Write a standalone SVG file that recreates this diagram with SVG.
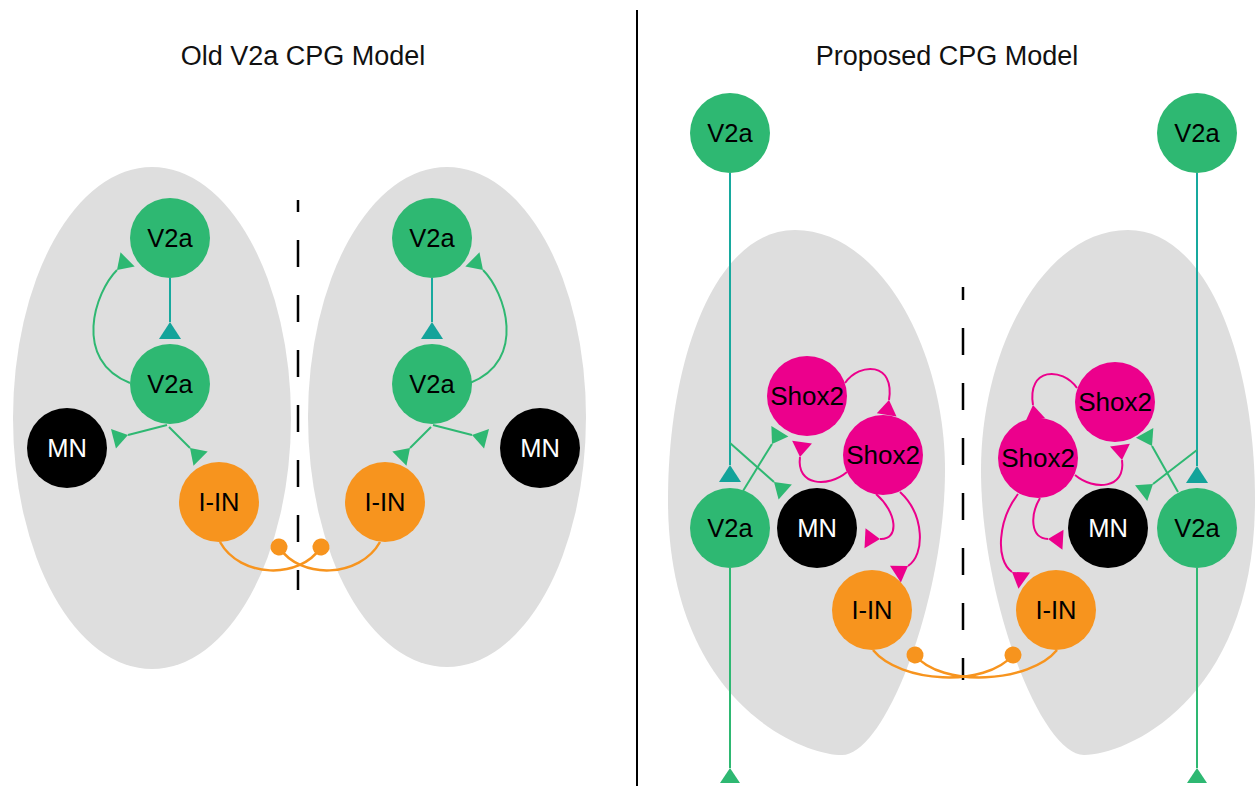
<svg xmlns="http://www.w3.org/2000/svg" width="1258" height="786" viewBox="0 0 1258 786">
<style>
.bg{fill:#dedede}
.t{font-family:"Liberation Sans",Arial,Helvetica,sans-serif;font-size:25.5px;text-anchor:middle;fill:#000}
.s{font-size:26px}
.title{font-family:"Liberation Sans",Arial,Helvetica,sans-serif;font-size:27px;text-anchor:middle;fill:#111}
.w{fill:#fff}
.green{fill:#2eb872}
.orange{fill:#f7941e}
.pink{fill:#ec008c}
.black{fill:#000}
.lg{stroke:#2eb872;stroke-width:2;fill:none}
.lt{stroke:#17a99e;stroke-width:2;fill:none}
.lp{stroke:#ec008c;stroke-width:2;fill:none}
.lo{stroke:#f7941e;stroke-width:2.5;fill:none}
.dash{stroke:#000;stroke-width:2.5;stroke-dasharray:27 28}
</style>
<defs>
<marker id="mg" viewBox="-2 -12 22 24" refX="0" refY="0" markerWidth="22" markerHeight="24" orient="auto" markerUnits="userSpaceOnUse"><path d="M0,0 L15,-10 L15,10 Z" fill="#2eb872"/></marker>
<marker id="mt" viewBox="-2 -13 22 26" refX="0" refY="0" markerWidth="22" markerHeight="26" orient="auto" markerUnits="userSpaceOnUse"><path d="M0,0 L17,-11 L17,11 Z" fill="#13a39a"/></marker>
<marker id="mp" viewBox="-2 -12 22 24" refX="0" refY="0" markerWidth="22" markerHeight="24" orient="auto" markerUnits="userSpaceOnUse"><path d="M0,0 L15,-10 L15,10 Z" fill="#ec008c"/></marker>
<marker id="mo" viewBox="-10 -10 20 20" refX="0" refY="0" markerWidth="20" markerHeight="20" orient="auto" markerUnits="userSpaceOnUse"><circle cx="0" cy="0" r="8.5" fill="#f7941e"/></marker>
</defs>
<rect width="1258" height="786" fill="#fff"/>

<g id="background">
<ellipse class="bg" cx="152" cy="418" rx="139" ry="251"/>
<ellipse class="bg" cx="447" cy="417" rx="139" ry="250"/>
<path class="bg" d="M795,230 C880,230 945,350 945,470 C945,600 885,755 842,755 C800,755 668,700 668,500 C668,360 715,230 795,230 Z"/>
<path class="bg" d="M1128,230 C1043,230 981,350 981,470 C981,600 1041,755 1084,755 C1126,755 1255,700 1255,500 C1255,360 1208,230 1128,230 Z"/>
<line x1="637" y1="10" x2="637" y2="786" stroke="#000" stroke-width="2"/>
<line class="dash" x1="298" y1="200" x2="298" y2="590" stroke-dashoffset="15"/>
<line class="dash" x1="963" y1="287" x2="963" y2="680" stroke-dashoffset="14"/>
<text class="title" x="303" y="65">Old V2a CPG Model</text>
<text class="title" x="947" y="65">Proposed CPG Model</text>
</g>

<g id="connectors">
<path class="lt" d="M170,278 L170,322" marker-end="url(#mt)"/>
<path class="lt" d="M432,278 L432,322" marker-end="url(#mt)"/>
<path class="lg" d="M130,383 C72,360 95,292 117,270" marker-end="url(#mg)"/>
<path class="lg" d="M470,383 C528,360 505,292 483,270" marker-end="url(#mg)"/>
<path class="lg" d="M167,425 L128,435" marker-end="url(#mg)"/>
<path class="lg" d="M169,427 L190,448" marker-end="url(#mg)"/>
<path class="lg" d="M433,425 L472,435" marker-end="url(#mg)"/>
<path class="lg" d="M431,427 L410,448" marker-end="url(#mg)"/>
<path class="lo" d="M220,542 C240,578 300,580 321,547" marker-end="url(#mo)"/>
<path class="lo" d="M380,542 C360,578 300,580 279,547" marker-end="url(#mo)"/>
<path class="lt" d="M730,173 L730,465" marker-end="url(#mt)"/>
<path class="lg" d="M730,568 L730,768" marker-end="url(#mg)"/>
<path class="lt" d="M1197,173 L1197,466" marker-end="url(#mt)"/>
<path class="lg" d="M1197,568 L1197,768" marker-end="url(#mg)"/>
<path class="lg" d="M730,443 L774,482" marker-end="url(#mg)"/>
<path class="lg" d="M743,491 L772,444" marker-end="url(#mg)"/>
<path class="lg" d="M1197,450 L1153,484" marker-end="url(#mg)"/>
<path class="lg" d="M1178,492 L1152,446" marker-end="url(#mg)"/>
<path class="lp" d="M845,383 C860,362 895,362 889,400" marker-end="url(#mp)"/>
<path class="lp" d="M847,472 C828,488 796,486 800,457" marker-end="url(#mp)"/>
<path class="lp" d="M876,494 C897,512 900,540 880,539" marker-end="url(#mp)"/>
<path class="lp" d="M900,492 C925,515 925,555 908,566" marker-end="url(#mp)"/>
<path class="lp" d="M1077,388 C1062,367 1027,367 1033,405" marker-end="url(#mp)"/>
<path class="lp" d="M1075,475 C1094,491 1126,489 1122,460" marker-end="url(#mp)"/>
<path class="lp" d="M1040,498 C1030,515 1030,538 1048,539" marker-end="url(#mp)"/>
<path class="lp" d="M1018,494 C998,520 995,560 1012,572" marker-end="url(#mp)"/>
<path class="lo" d="M873,650 C900,683 985,688 1013,655" marker-end="url(#mo)"/>
<path class="lo" d="M1057,650 C1030,683 941,688 915,655" marker-end="url(#mo)"/>
</g>

<g id="old-v2a-top-l"><circle class="green" cx="170" cy="238" r="40"/><text class="t" x="170" y="247">V2a</text></g>
<g id="old-v2a-low-l"><circle class="green" cx="170" cy="384" r="40"/><text class="t" x="170" y="393">V2a</text></g>
<g id="old-mn-l"><circle class="black" cx="67" cy="448" r="40"/><text class="t w" x="67" y="457">MN</text></g>
<g id="old-iin-l"><circle class="orange" cx="219" cy="502" r="40"/><text class="t" x="219" y="511">I-IN</text></g>
<g id="old-v2a-top-r"><circle class="green" cx="432" cy="238" r="40"/><text class="t" x="432" y="247">V2a</text></g>
<g id="old-v2a-low-r"><circle class="green" cx="432" cy="384" r="40"/><text class="t" x="432" y="393">V2a</text></g>
<g id="old-mn-r"><circle class="black" cx="540" cy="448" r="40"/><text class="t w" x="540" y="457">MN</text></g>
<g id="old-iin-r"><circle class="orange" cx="385" cy="502" r="40"/><text class="t" x="385" y="511">I-IN</text></g>

<g id="new-v2a-top-l"><circle class="green" cx="730" cy="133" r="40"/><text class="t" x="730" y="142">V2a</text></g>
<g id="new-v2a-low-l"><circle class="green" cx="730" cy="528" r="40"/><text class="t" x="730" y="537">V2a</text></g>
<g id="new-mn-l"><circle class="black" cx="817" cy="528" r="40"/><text class="t w" x="817" y="537">MN</text></g>
<g id="new-shox2-up-l"><circle class="pink" cx="807" cy="396" r="40"/><text class="t s" x="807" y="405">Shox2</text></g>
<g id="new-shox2-low-l"><circle class="pink" cx="883" cy="455" r="40"/><text class="t s" x="883" y="464">Shox2</text></g>
<g id="new-iin-l"><circle class="orange" cx="872" cy="610" r="40"/><text class="t" x="872" y="619">I-IN</text></g>
<g id="new-v2a-top-r"><circle class="green" cx="1197" cy="133" r="40"/><text class="t" x="1197" y="142">V2a</text></g>
<g id="new-v2a-low-r"><circle class="green" cx="1197" cy="528" r="40"/><text class="t" x="1197" y="537">V2a</text></g>
<g id="new-mn-r"><circle class="black" cx="1108" cy="528" r="40"/><text class="t w" x="1108" y="537">MN</text></g>
<g id="new-shox2-up-r"><circle class="pink" cx="1115" cy="402" r="40"/><text class="t s" x="1115" y="411">Shox2</text></g>
<g id="new-shox2-low-r"><circle class="pink" cx="1038" cy="458" r="40"/><text class="t s" x="1038" y="467">Shox2</text></g>
<g id="new-iin-r"><circle class="orange" cx="1056" cy="610" r="40"/><text class="t" x="1056" y="619">I-IN</text></g>
</svg>
